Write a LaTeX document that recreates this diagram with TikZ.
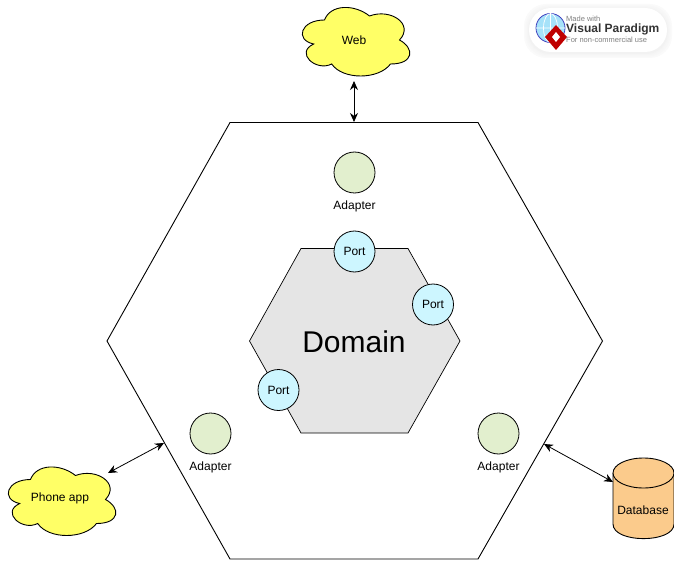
\documentclass[tikz,border=0pt]{standalone}
\usepackage{fontspec}
\setmainfont{Liberation Sans}
\usetikzlibrary{arrows.meta}
\definecolor{adaptergreen}{HTML}{E2EFCE}
\definecolor{portblue}{HTML}{CDF6FF}
\definecolor{domaingray}{HTML}{E5E5E5}
\definecolor{cloudyellow}{HTML}{FFFF66}
\definecolor{dborange}{HTML}{FBCB8C}
\tikzset{
  line/.style={black,line width=0.9pt},
  link/.style={black,line width=0.8pt,{Stealth[length=9pt,width=8pt]}-{Stealth[length=9pt,width=8pt]}},
  adapter/.style={circle,draw,line width=0.8pt,fill=adaptergreen,minimum size=41pt,inner sep=0pt},
  port/.style={circle,draw,line width=0.8pt,fill=portblue,minimum size=41pt,inner sep=0pt,font=\fontsize{12}{14}\selectfont},
  label/.style={font=\fontsize{12}{14}\selectfont,inner sep=0pt},
  pics/cloudshape/.style={code={
    \filldraw[fill=cloudyellow,draw=black,line width=0.9pt,x=120pt,y=-80pt]
      (0.25,0.25) .. controls (0.05,0.25) and (0,0.5) .. (0.16,0.55)
      .. controls (0,0.66) and (0.18,0.9) .. (0.31,0.8)
      .. controls (0.4,1) and (0.7,1) .. (0.8,0.8)
      .. controls (1,0.8) and (1,0.6) .. (0.875,0.5)
      .. controls (1,0.3) and (0.8,0.1) .. (0.625,0.2)
      .. controls (0.5,0.05) and (0.3,0.05) .. (0.25,0.25) -- cycle;
  }}
}
\begin{document}
\begin{tikzpicture}[x=1pt,y=-1pt]
    \useasboundingbox (0,0) rectangle (674,561);

    %hexagons
    \draw[line] (230,122.5) -- (478,122.5) -- (602.5,341) -- (478,559) -- (230,559) -- (107,341) -- cycle;
    \filldraw[line,fill=domaingray,line width=0.7pt] (301,248.5) -- (408,248.5) -- (460,341) -- (408,433) -- (301,433) -- (249.5,341) -- cycle;
    \node[font=\fontsize{30}{34}\selectfont,inner sep=0pt] (domain) at (354,342) {Domain};

    %adapters
    \node[adapter] (adapterTop) at (354.5,172.5) {};
    \node[adapter] (adapterLeft) at (210.5,433.5) {};
    \node[adapter] (adapterRight) at (498.5,433.5) {};
    \node[label] (adapterTopText) at (354.5,206.3) {Adapter};
    \node[label] (adapterLeftText) at (210.5,467.3) {Adapter};
    \node[label] (adapterRightText) at (498.5,467.3) {Adapter};

    %ports
    \node[port] (portTop) at (354.5,251.5) {Port};
    \node[port] (portRight) at (433,304.5) {Port};
    \node[port] (portLeft) at (278.5,390) {Port};

    %clouds
    \pic at (294.5,0) {cloudshape};
    \pic at (0.5,459.5) {cloudshape};
    \node[label] (web) at (354,40.3) {Web};
    \node[label] (phone) at (60,498.6) {Phone app};

    %database
    \filldraw[line,fill=dborange] (613,473) -- (613,524) .. controls (613,543.5) and (674,543.5) .. (674,524) -- (674,473);
    \filldraw[line,fill=dborange] (643.5,473) ellipse[x radius=30.5,y radius=15];
    \node[label] (database) at (643,510.3) {Database};

    %connectors
    \coordinate (webEnd) at (354,81);
    \coordinate (outerTop) at (354,122);
    \coordinate (phoneEnd) at (108,473);
    \coordinate (outerLeft) at (164,443);
    \coordinate (outerRight) at (544,444);
    \coordinate (databaseEnd) at (613,482);
    \draw[link] (webEnd) -- (outerTop);
    \draw[link] (phoneEnd) -- (outerLeft);
    \draw[link] (outerRight) -- (databaseEnd);

    %badge
    \foreach \g/\c in {5/2,3.5/3,2/4,1/5}
        \fill[black!\c!white,rounded corners=22pt] (529-\g,8-\g+1) rectangle (667+\g,52+\g+1);
    \fill[white,rounded corners=22pt] (529,8) rectangle (667,52);
    \fill[cyan!35!white] (550.5,28) circle (14.5);
    \draw[blue!50!gray,line width=0.8pt] (550.5,28) circle (14.5);
    \draw[white,line width=0.7pt] (550.5,13.5) -- (550.5,42.5) (536,28) -- (565,28) (550.5,28) ellipse[x radius=7,y radius=14.5];
    \fill[red!75!black] (556,25) -- (567,37) -- (556,50) -- (545,37) -- cycle;
    \fill[white] (556,32) -- (560,37) -- (556,42) -- (552,37) -- cycle;
    \node[anchor=west,inner sep=0pt,text=gray,font=\fontsize{7.5}{9}\selectfont] (badgeTop) at (566,19) {Made with};
    \node[anchor=west,inner sep=0pt,text=black!80,font=\bfseries\fontsize{12}{14}\selectfont] (badgeName) at (566,29.5) {Visual Paradigm};
    \node[anchor=west,inner sep=0pt,text=gray,font=\fontsize{7.5}{9}\selectfont] (badgeBottom) at (566,40) {For non-commercial use};
\end{tikzpicture}
\end{document}
